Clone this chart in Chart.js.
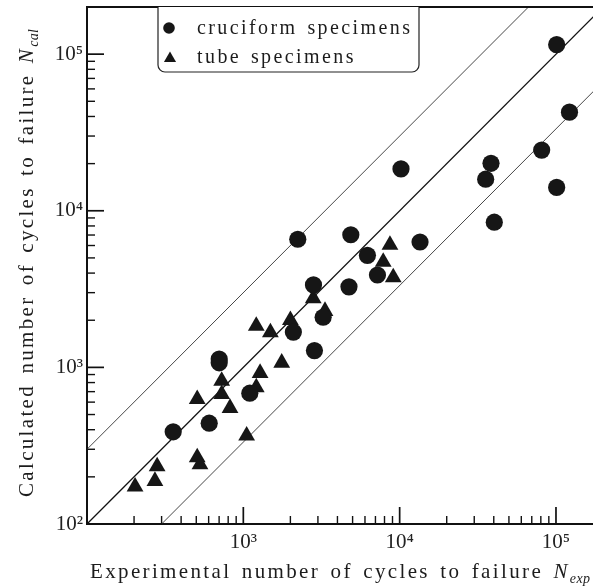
<!DOCTYPE html>
<html><head><meta charset="utf-8">
<script src="https://cdn.jsdelivr.net/npm/chart.js@4.4.1/dist/chart.umd.min.js"></script>
<style>html,body{margin:0;padding:0;background:#fff;}</style>
</head><body>
<canvas id="c" width="593" height="587"></canvas>
<script>
// ---- data ----
const seriesNames = ['cruciform specimens', 'tube specimens'];
const cruciformExp = [1.01e5, 1.22e5, 8.1e4, 3.84e4, 3.55e4, 1.01e5, 4.03e4, 1.02e4, 4870, 1.35e4, 6220, 7210, 4740, 2230, 2810, 3240, 2090, 2850, 701, 701, 1100, 605, 356];
const cruciformCal = [1.15e5, 4.26e4, 2.44e4, 2.01e4, 1.59e4, 1.41e4, 8450, 1.85e4, 7030, 6320, 5190, 3890, 3270, 6580, 3360, 2090, 1680, 1280, 1130, 1070, 684, 440, 388];
const tubeExp = [8670, 7850, 9100, 2800, 3330, 2000, 1210, 1490, 1760, 1280, 1210, 727, 727, 507, 822, 1050, 507, 528, 281, 272, 203];
const tubeCal = [6050, 4720, 3750, 2760, 2290, 2000, 1840, 1670, 1070, 920, 745, 820, 675, 627, 550, 366, 266, 240, 233, 188, 173];
const xTickValues = [1e3, 1e4, 1e5];
const xTickLabels = ['10³', '10⁴', '10⁵'];
const yTickValues = [1e2, 1e3, 1e4, 1e5];
const yTickLabels = ['10²', '10³', '10⁴', '10⁵'];
const minorMultiples = [1, 2, 3, 4, 5, 6, 7, 8, 9];
const bandFactors = [1/3, 1, 3];
const bandLineEnds = [20, 1e6];
const xRange = [100, 1.725e5];
const yRange = [100, 2e5];
const xTitleText = 'Experimental number of cycles to failure ';
const xTitleSymbol = ['N', 'exp'];
const yTitleText = 'Calculated number of cycles to failure ';
const yTitleSymbol = ['N', 'cal'];

const SERIF = '"Liberation Serif", "DejaVu Serif", serif';
const INK = '#161616';

function toPoints(xs, ys) { return xs.map((v, i) => ({x: v, y: ys[i]})); }

const lineDatasets = bandFactors.map(f => ({
  label: 'ratio ' + f.toFixed(2),
  data: bandLineEnds.map(v => ({x: v, y: v * f})),
  showLine: true,
  borderColor: f === 1 ? '#111' : '#333',
  borderWidth: f === 1 ? 1.3 : 0.9,
  pointRadius: 0,
  order: 2
}));

const markerDatasets = [
  {label: seriesNames[0], data: toPoints(cruciformExp, cruciformCal), pointStyle: 'circle',
   pointRadius: 8.6, backgroundColor: INK, borderWidth: 0, order: 0},
  {label: seriesNames[1], data: toPoints(tubeExp, tubeCal), pointStyle: 'triangle',
   pointRadius: 9.7, backgroundColor: INK, borderWidth: 0, order: 1}
];

function measureItems(ctx, segs) {
  const items = [];
  segs.forEach(s => {
    ctx.font = s.font;
    for (const ch of s.text) items.push({ch, w: ctx.measureText(ch).width, font: s.font, dy: s.dy || 0, sp: s.sp !== undefined ? s.sp : 1});
  });
  return items;
}
function spacingFor(ctx, segs, target, wordRatio) {
  const items = measureItems(ctx, segs);
  let nat = 0, weight = 0;
  items.forEach((it, i) => { nat += it.w; if (i < items.length - 1) weight += it.sp * (1 + (it.ch === ' ' ? wordRatio : 0)); });
  return (target - nat) / weight;
}
function drawSpaced(ctx, segs, x0, y0, s, wordRatio) {
  const items = measureItems(ctx, segs);
  let cx = x0;
  items.forEach(it => {
    ctx.font = it.font;
    ctx.fillText(it.ch, cx, y0 + it.dy);
    cx += it.w + it.sp * s * (1 + (it.ch === ' ' ? wordRatio : 0));
  });
}

function drawInwardTicks(chart) {
  const ctx = chart.ctx, a = chart.chartArea;
  const sx = chart.scales.x, sy = chart.scales.y;
  ctx.save();
  ctx.fillStyle = '#111';
  for (let e = 1; e <= 6; e++) {
    minorMultiples.forEach(k => {
      const v = k * Math.pow(10, e);
      const len = k === 1 ? 17 : 8;
      const w = k === 1 ? 1.7 : 1.4;
      const px = sx.getPixelForValue(v);
      if (Number.isFinite(px) && px > a.left + 1 && px < a.right) {
        ctx.fillRect(px - w / 2, a.bottom - len, w, len);
      }
      const py = sy.getPixelForValue(v);
      if (Number.isFinite(py) && py < a.bottom - 1 && py > a.top + 1) {
        ctx.fillRect(a.left, py - w / 2, len, w);
      }
    });
  }
  ctx.restore();
}

const decor = {
  id: 'decor',
  afterDraw(chart) {
    const ctx = chart.ctx, a = chart.chartArea;
    ctx.save();
    ctx.fillStyle = '#111';
    ctx.fillRect(a.left - 1, a.top - 1, a.right - a.left + 1, 2);
    drawInwardTicks(chart);
    // legend box
    const lx0 = 158, lx1 = 419, ly0 = a.top, ly1 = 72, r = 7;
    ctx.fillStyle = '#fff'; ctx.strokeStyle = '#222'; ctx.lineWidth = 1.2;
    ctx.beginPath();
    ctx.moveTo(lx0, ly0); ctx.lineTo(lx0, ly1 - r); ctx.arcTo(lx0, ly1, lx0 + r, ly1, r);
    ctx.lineTo(lx1 - r, ly1); ctx.arcTo(lx1, ly1, lx1, ly1 - r, r); ctx.lineTo(lx1, ly0);
    ctx.fill(); ctx.stroke();
    ctx.fillStyle = INK;
    ctx.beginPath(); ctx.arc(169, 28, 5.8, 0, Math.PI * 2); ctx.fill();
    const tr = 7;
    ctx.beginPath(); ctx.moveTo(170, 58.5 - tr); ctx.lineTo(170 + 0.866 * tr, 58.5 + tr / 2); ctx.lineTo(170 - 0.866 * tr, 58.5 + tr / 2); ctx.closePath(); ctx.fill();
    ctx.fillStyle = '#1c1c1c'; ctx.textBaseline = 'alphabetic'; ctx.textAlign = 'left';
    const legFont = '20px ' + SERIF;
    const names = markerDatasets.map(d => d.label);
    const ls = spacingFor(ctx, [{text: names[0], font: legFont}], 213, 1.0);
    drawSpaced(ctx, [{text: names[0], font: legFont}], 197, 34, ls, 1.0);
    drawSpaced(ctx, [{text: names[1], font: legFont}], 197, 63, ls, 1.0);
    // x title
    const tFont = '21px ' + SERIF, iFont = 'italic 21px ' + SERIF, sFont = 'italic 14px ' + SERIF;
    const xs = [{text: xTitleText, font: tFont}, {text: xTitleSymbol[0], font: iFont}, {text: xTitleSymbol[1], font: sFont, dy: 5, sp: 0.15}];
    const spx = spacingFor(ctx, xs, 500, 1.2);
    drawSpaced(ctx, xs, 90, 578, spx, 1.2);
    // y title
    const ys = [{text: yTitleText, font: tFont}, {text: yTitleSymbol[0], font: iFont}, {text: yTitleSymbol[1], font: sFont, dy: 5, sp: 0.15}];
    const spy = spacingFor(ctx, ys, 468, 1.2);
    ctx.translate(33, 497); ctx.rotate(-Math.PI / 2);
    drawSpaced(ctx, ys, 0, 0, spy, 1.2);
    ctx.restore();
  }
};

new Chart(document.getElementById('c'), {
  type: 'scatter',
  data: {datasets: [...markerDatasets, ...lineDatasets]},
  options: {
    responsive: false,
    devicePixelRatio: 1,
    animation: false,
    events: [],
    layout: {autoPadding: false, padding: {top: 7, left: 0, right: 0, bottom: 0}},
    plugins: {legend: {display: false}, tooltip: {enabled: false}},
    scales: {
      x: {
        type: 'logarithmic', min: xRange[0], max: xRange[1],
        afterFit: s => { s.height = 63; s.paddingLeft = 0; s.paddingRight = 0; },
        afterBuildTicks: s => { s.ticks = xTickValues.map(v => ({value: v})); },
        grid: {display: false, drawTicks: false},
        border: {display: true, color: '#111', width: 2},
        ticks: {autoSkip: false, maxRotation: 0, padding: 6, color: '#222',
          font: {family: SERIF, size: 21},
          callback: (v, i) => xTickLabels[i]}
      },
      y: {
        type: 'logarithmic', min: yRange[0], max: yRange[1],
        afterFit: s => { s.width = 87; s.paddingTop = 0; s.paddingBottom = 0; },
        afterBuildTicks: s => { s.ticks = yTickValues.map(v => ({value: v})); },
        grid: {display: false, drawTicks: false},
        border: {display: true, color: '#111', width: 2},
        ticks: {autoSkip: false, padding: 4, color: '#222',
          font: {family: SERIF, size: 21},
          callback: (v, i) => yTickLabels[i]}
      }
    }
  },
  plugins: [decor]
});
</script>
</body></html>
